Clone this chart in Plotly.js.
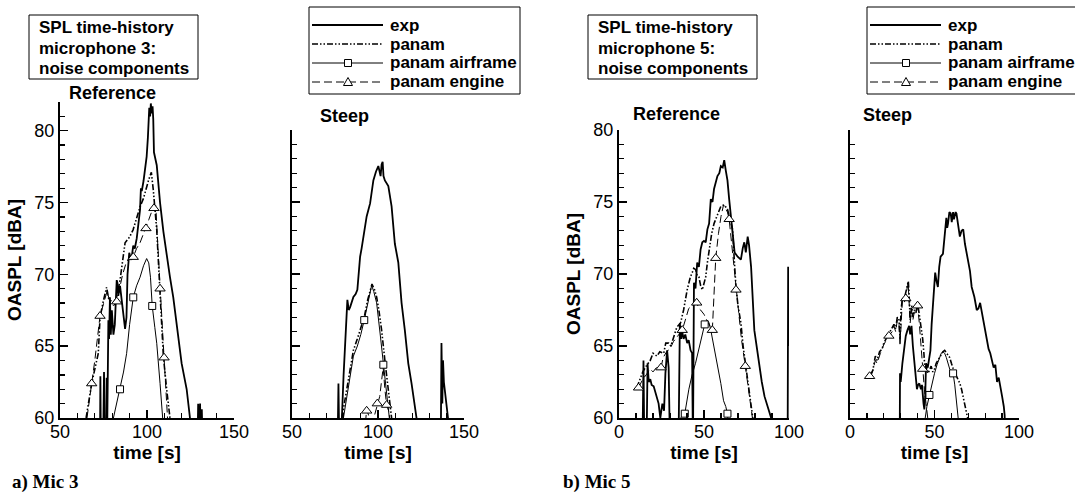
<!DOCTYPE html>
<html><head><meta charset="utf-8">
<script src="https://cdn.plot.ly/plotly-3.0.1.min.js"></script>
<style>html,body{margin:0;padding:0;background:#fff;} #chart{width:1075px;height:496px;}</style>
</head><body><div id="chart"></div>
<script>
// ---------- DATA: [time s, OASPL dBA] ----------
// Mic 3, Reference
const m3ref_exp = [[70,58],[73,58],[73.2,62.9],[73.5,58],[74.8,58],[75.3,63.2],[75.7,58],[76.5,58],[76.8,62.8],[77.2,60],
  [77.8,66.8],[78.2,65.5],[78.7,68.4],[79.2,65.8],[79.8,67.5],[80.7,65.8],[81.5,66.5],[82.6,69.6],[83,69.4],[83.5,68.5],
  [84.5,69.2],[86,67.5],[87.4,66.2],[88.2,67],[88.8,70],[89.8,71.5],[91,71],[92.1,72],[93,71.8],[94.1,72.5],
  [95,73.5],[96,74.5],[96.5,76],[97,75.8],[98,76.5],[99.8,78.2],[100.5,79.5],[101.3,81.6],[101.8,81],[102.2,81.9],
  [102.7,81.2],[103.2,81.7],[103.6,80.8],[104,78.5],[105.6,77.6],[107.5,75],[109.4,73],[111.3,71.2],[113.2,69.8],[115.1,68.4],
  [117,66.6],[119.9,63.8],[122.8,62],[124.7,60],[125.5,58],[129,58],[129.4,61],[129.8,58],[130.5,61],[131,58],[131.5,60.6],[132,58]];
const m3ref_panam = [[65,60],[68.2,62.4],[72,64.5],[73,67],[75,68.2],[76.8,69.1],[78,68.3],[80.7,68],[82.6,68.4],[84.5,69.6],
  [87.4,72.2],[90,72.6],[92,73.1],[94,74],[96,74.7],[98,75.3],[99.8,76.1],[101,76.6],[102.5,77.1],[103.6,75.9],
  [105.6,73.1],[107.5,69.1],[109.4,64.3],[111.3,62],[113.2,60]];
const m3ref_airframe = [[80.7,60],[82.5,61],[84.5,62],[86.5,63.2],[88.3,64.5],[90,66.5],[92.1,68.4],[94,69.2],[96,69.8],[98,70.6],
  [99.8,71.1],[101,70.8],[102,69.8],[103,67.8],[104.5,66.3],[105.6,65.2],[107.5,62.4],[109,60]];
const m3ref_engine = [[65.5,60],[68.2,62.4],[70,64],[73,67.1],[75,68],[77,68.8],[79,68],[80.7,67.8],[82.6,68.1],[84.5,69.2],
  [86,70],[88,70.8],[90,71.2],[92.1,71.2],[94,71.8],[96,72.2],[99.4,73.2],[101,73.8],[102.5,74.3],[104,74.6],
  [105,74.8],[106,72.5],[107.5,69],[109.8,64.2],[111.8,60]];
const m3ref_airframe_sym = [[84.5,62],[92.1,68.4],[103,67.8]];
const m3ref_engine_sym = [[68.2,62.4],[73,67.1],[82.6,68.1],[92.1,71.2],[99.4,73.2],[104,74.6],[107.5,69],[109.8,64.2]];

// Mic 3, Steep
const m3stp_exp = [[76.5,58],[77,62.4],[77.5,58],[79,60],[80,63],[80.9,65.4],[82.2,68.2],[83,67.5],[83.8,67.7],[85.7,68.4],
  [87,68.6],[88,68.9],[89.6,71.2],[90.5,71.8],[91.5,72.6],[93.4,74],[95.4,74.9],[97.3,76.5],[98.8,77.1],[100.2,77.5],
  [101.5,76.8],[102.1,77.6],[102.7,77.8],[103.2,76.8],[104,76.5],[106,76.1],[107.9,74.7],[109.8,72.1],[111.8,70.8],[113.7,68],
  [115.6,66.1],[117.6,63.8],[119.5,62.4],[121.4,61],[122.4,60],[123,58],[136.5,58],[136.9,65.2],[137.4,61],[137.8,64],
  [138.3,62.5],[140.7,60],[141,58]];
const m3stp_panam = [[79,60],[81,61.5],[83,62.8],[85.7,64.7],[88,65.5],[90,66.2],[92,67],[94,68.2],[95.4,68.9],[96.5,69.3],
  [98,68.9],[99.2,68.4],[100.5,67.5],[102.1,66.1],[104,64],[106,62],[107.9,60]];
const m3stp_airframe = [[79.9,60],[82,61.5],[84,63],[85.7,64.3],[88,65],[90,65.8],[92,66.8],[94,68],[95.4,68.9],[96.3,69.2],
  [97.5,68.8],[99.2,68],[101.2,65.9],[103.1,63.7],[105,61.5],[106.6,60]];
const m3stp_engine = [[91.5,58],[93.4,60.6],[94.5,60.2],[95.5,58],[98,60.2],[99.6,61],[101,61.5],[102,62.5],[103,63.5],[104,62],
  [105,60.9],[106.5,60.4],[108,58]];
const m3stp_airframe_sym = [[92,66.8],[103.1,63.7]];
const m3stp_engine_sym = [[93.4,60.5],[99.6,61],[105,60.9]];

// Mic 5, Reference
const m5ref_exp = [[13.8,58],[14.4,64],[14.9,58],[16.2,58],[16.8,63.8],[17.5,62.5],[18.4,62.7],[19.2,62.3],[20.4,62.2],[21.3,61.8],
  [22.3,61.5],[23.3,61],[24.3,60],[25.5,61],[26.5,60.5],[27.3,63.1],[28.3,64.7],[29.2,63.5],[30,58],[33.5,58],
  [35,58],[35.8,66.6],[36.5,65.5],[37.2,66],[38,65.5],[39,65.8],[40.1,65.2],[41,65.4],[42.1,64.7],[43,64.5],
  [43.5,58],[44.1,69.4],[45,69],[46,70.8],[47,70.5],[48,71.7],[49,72.2],[50,72.3],[51,72.2],[52,73.1],
  [53,73.5],[54,75.2],[55,75],[55.9,75.9],[57,76.5],[57.9,76.8],[59,77],[59.9,77.5],[61,77.4],[61.9,77.9],
  [62.8,77.2],[63.8,76.5],[64.8,75.2],[66.8,73.1],[68,71.5],[69.8,71.2],[71.7,71],[72.8,71.8],[73.7,72.2],[74.6,71.5],
  [75.7,72.6],[76.5,72],[77.7,70.5],[79.6,66.1],[81,65],[82.6,63.4],[84,62.5],[85.6,61.5],[87,61],[88,60.5],
  [89.5,60],[90,58],[99.2,58],[99.5,70.5],[99.8,68],[100,65]];
const m5ref_panam = [[10.5,62.1],[12,62.6],[14,63.2],[16,63.6],[18.4,64],[20,64.5],[22.3,64.3],[24,64.6],[26.3,64.5],[27.5,65.2],
  [29.2,65.2],[30.5,65],[32.2,65.7],[34,66.3],[36.2,66.6],[38,67.5],[40.1,68.9],[42,69.8],[43.1,70.1],[44,70.4],
  [45.1,70.3],[46,69.9],[47,69.8],[48,69.2],[49,68.9],[50,69.3],[51,69.8],[52,70.8],[53,71.7],[54.5,72.8],
  [55.9,73.5],[58,74.2],[59.9,74.7],[61.9,74.8],[63.8,74.5],[65.3,73.8],[66.8,73.1],[67.8,71],[68.8,69.1],[70,67.8],
  [71.7,66.6],[73,65],[74.7,63.6],[75.7,62.8],[76.7,62],[77.7,61],[78.7,60]];
const m5ref_airframe = [[36.2,60],[38.7,60.3],[41.1,62],[43,63],[45,63.8],[46.5,64.5],[48,65.2],[50.4,66.5],[52,66.8],[53,66.6],
  [54,66.1],[55.5,65.2],[56.9,64.3],[58.5,63.3],[59.9,62.4],[61.5,61.2],[62.8,60.8],[63.8,60.3],[64.2,59.5]];
const m5ref_engine = [[11.5,62.1],[14,62.7],[16,63],[18.4,63.4],[20,63.2],[22,63.5],[24.7,63.5],[26,64.2],[28,64.6],[30,64.8],
  [32,65.3],[35,65.8],[37.2,66.1],[39,66.8],[41,67.6],[43,67.8],[44.5,67.9],[45.7,68],[47,67.6],[48,67.5],
  [50,67.2],[52,66.7],[54.9,66.1],[55.8,68.5],[56.9,71.1],[58.5,72.8],[60,74],[61.5,74.8],[62.5,74.6],[63.8,74.3],
  [64.8,73.8],[66.8,71.5],[68.8,68.9],[70.5,67],[72,65.5],[74.3,63.6],[76,62],[77.5,61],[78.5,60]];
const m5ref_airframe_sym = [[38.7,60.3],[50.4,66.5],[63.8,60.3]];
const m5ref_engine_sym = [[11.5,62.1],[24.7,63.5],[37.2,66.1],[45.7,68],[54.9,66.1],[56.9,71.1],[64.8,73.8],[68.8,68.9],[74.3,63.6]];

// Mic 5, Steep
const m5stp_exp = [[29.4,58],[29.6,63.1],[30,62.5],[31,63.8],[32,64.6],[33,65.7],[34,66.1],[35,66.4],[35.6,65.8],[36.4,66.4],
  [37.2,65],[38,63.8],[39,62.8],[39.6,62],[40.3,62.3],[41,62.4],[42,62],[42.6,62.3],[43.5,61],[44,60.6],
  [44.5,61.5],[45,63.8],[46,63.5],[47.6,64.7],[48.3,66.5],[49,68],[49.6,69],[50.4,70.1],[51.2,69.5],[52,69.1],
  [52.8,70.5],[53.6,71.2],[55,71.4],[56,72.6],[57,73.9],[57.5,73.2],[58,73.5],[58.8,74.3],[59.6,74.2],[60.2,73.6],
  [61,74.3],[61.5,73.8],[62,74],[62.5,74.3],[63,74.2],[64,73.5],[65,72.6],[66,73],[67,73.1],[68,72.1],
  [69,71.5],[70,71],[71,70.2],[72,69.1],[73.6,68.4],[75,67.5],[76,67.6],[77,68],[78,67.3],[79,66.6],
  [80,66],[81,65.2],[82,64.8],[83,64.5],[84,64],[85,63.5],[86,63.7],[87,62.5],[88,62.8],[89,62],
  [90,61.5],[91,60.8],[91.5,60.2],[92,58]];
const m5stp_panam = [[12,63],[13.5,63.3],[15,64.3],[16,64],[17.5,64.6],[19,64.8],[20,65.2],[22,65.6],[24,66],[26,66.5],
  [27,66.2],[28,67],[29,66.8],[29.6,65.5],[30.2,67.5],[31,68.3],[32,68.2],[33,68.8],[34,69.4],[34.5,69.5],
  [35,68.5],[35.6,66.8],[36.5,67.8],[37.3,67],[38,67.5],[39,67.3],[40,68],[41,67.2],[42,66.6],[43,65.5],
  [43.6,64.7],[44.3,63.5],[45,63.6],[46,63.1],[47,63.3],[48,63.6],[49,63.2],[50,63.4],[51,63.8],[52,64],
  [53,64.3],[54,64.5],[55,64.6],[56,64.7],[57,64.5],[58,64.3],[59,64.2],[60,63.8],[61,63.4],[62,63.1],
  [63,62.9],[64,62.7],[65,62.4],[66,62],[67,61.5],[68,60.8],[69,60.3],[69.6,60]];
const m5stp_airframe = [[43.5,58],[44.5,60],[45.5,60.8],[47,61.6],[48.5,62.4],[50,63.1],[51.5,63.7],[53,64.2],[54,64.5],[55,64.6],
  [56,64.5],[57,64.2],[58,63.8],[59,63.4],[60,63.2],[61,63.1],[62,62.3],[63,61],[64,60],[64.5,58]];
const m5stp_engine = [[11.6,62.9],[13,63.1],[15,64],[16,63.8],[18,64.5],[20,65.1],[23,65.7],[25,66],[26,66.4],[27,66],
  [28,66.8],[29,66.5],[29.6,65],[30.3,67],[31,68.2],[32,68],[33,68.3],[34,69.2],[34.4,69.4],[35,68],
  [35.6,66.6],[36.4,67.5],[37.2,66.8],[38.4,67.6],[40,67.8],[41,66.6],[42,65],[43,63.4],[44,62],[45,61],[46,60]];
const m5stp_airframe_sym = [[47,61.6],[61,63.1]];
const m5stp_engine_sym = [[11.6,62.9],[23,65.7],[33,68.3],[40,67.8],[43,63.4]];

const seriesNames = ['exp', 'panam', 'panam airframe', 'panam engine'];
const panelTitles = ['Reference', 'Steep', 'Reference', 'Steep'];
const boxLines3 = ['SPL time-history', 'microphone 3:', 'noise components'];
const boxLines5 = ['SPL time-history', 'microphone 5:', 'noise components'];
const captions = ['a) Mic 3', 'b) Mic 5'];
const xTitle = 'time [s]';
const yTitle = 'OASPL [dBA]';

// ---------- LAYOUT HELPERS ----------
const W = 1075, H = 496;
const px = x => x / W;
const py = y => 1 - y / H;
const FONT = 'Liberation Sans, Arial, Helvetica, sans-serif';
const SERIF = 'Liberation Serif, Times New Roman, serif';
const DASH_PANAM = '6px,2px,1.5px,2px,1.5px,2px';
const DASH_ENG = '8px,4px';

const panels = [
  {data:[m3ref_exp, m3ref_panam, m3ref_airframe, m3ref_engine], sq:m3ref_airframe_sym, tri:m3ref_engine_sym,
   xd:[60,234], yd:[418,102], xr:[50,150], yr:[60,82], labels:true},
  {data:[m3stp_exp, m3stp_panam, m3stp_airframe, m3stp_engine], sq:m3stp_airframe_sym, tri:m3stp_engine_sym,
   xd:[292,464], yd:[418,130], xr:[50,150], yr:[60,80], labels:false},
  {data:[m5ref_exp, m5ref_panam, m5ref_airframe, m5ref_engine], sq:m5ref_airframe_sym, tri:m5ref_engine_sym,
   xd:[619,789], yd:[418,130], xr:[0,100], yr:[60,80], labels:true},
  {data:[m5stp_exp, m5stp_panam, m5stp_airframe, m5stp_engine], sq:m5stp_airframe_sym, tri:m5stp_engine_sym,
   xd:[850,1019], yd:[418,130], xr:[0,100], yr:[60,80], labels:false}
];

const lineStyles = [
  {color:'#000', width:1.8},
  {color:'#000', width:1.6, dash:DASH_PANAM},
  {color:'#000', width:1},
  {color:'#000', width:1, dash:DASH_ENG}
];

const traces = [];
const layout = {
  width: W, height: H,
  margin: {l:0, r:0, t:0, b:0},
  paper_bgcolor: '#fff', plot_bgcolor: 'rgba(0,0,0,0)',
  showlegend: false,
  shapes: [], annotations: []
};

panels.forEach((p, i) => {
  const s = i === 0 ? '' : String(i + 1);
  const xa = 'x' + s, ya = 'y' + s;
  p.data.forEach((d, k) => {
    traces.push({type:'scatter', mode:'lines', name:seriesNames[k], x:d.map(q=>q[0]), y:d.map(q=>q[1]),
      xaxis:xa, yaxis:ya, line:lineStyles[k], hoverinfo:'skip', showlegend:false});
  });
  traces.push({type:'scatter', mode:'markers', name:seriesNames[2], x:p.sq.map(q=>q[0]), y:p.sq.map(q=>q[1]),
    xaxis:xa, yaxis:ya, marker:{symbol:'square', size:7, color:'#fff', line:{color:'#000', width:1}},
    hoverinfo:'skip', showlegend:false, cliponaxis:false});
  traces.push({type:'scatter', mode:'markers', name:seriesNames[3], x:p.tri.map(q=>q[0]), y:p.tri.map(q=>q[1]),
    xaxis:xa, yaxis:ya, marker:{symbol:'triangle-up', size:9, color:'#fff', line:{color:'#000', width:1}},
    hoverinfo:'skip', showlegend:false, cliponaxis:false});

  layout['xaxis' + s] = {
    domain:[px(p.xd[0]), px(p.xd[1])], range:p.xr, anchor:ya,
    showline:true, linecolor:'#000', linewidth:2, mirror:false,
    ticks:'inside', ticklen:8, tickwidth:1.5, tickcolor:'#000', tick0:0, dtick:50,
    minor:{ticks:'inside', ticklen:5, tickwidth:1.3, tickcolor:'#000', tick0:0, dtick:10, showgrid:false},
    showgrid:false, zeroline:false, fixedrange:true, ticklabelstandoff:-4,
    tickfont:{family:FONT, size:18, color:'#000'},
    title:{text:xTitle, font:{family:FONT, size:19, color:'#000', weight:'bold'}, standoff:1}
  };
  layout['yaxis' + s] = {
    domain:[py(p.yd[0]), py(p.yd[1])], range:p.yr, anchor:xa,
    showline:true, linecolor:'#000', linewidth:2, mirror:false,
    ticks:'inside', ticklen:8, tickwidth:1.5, tickcolor:'#000', tick0:0, dtick:5,
    minor:{ticks:'inside', ticklen:5, tickwidth:1.3, tickcolor:'#000', tick0:0, dtick:1, showgrid:false},
    showgrid:false, zeroline:false, fixedrange:true, showticklabels:p.labels,
    tickfont:{family:FONT, size:18, color:'#000'},
    title: p.labels ? {text:yTitle, font:{family:FONT, size:19, color:'#000', weight:'bold'}, standoff:8} : {text:''}
  };
});

// Panel titles
const titlePos = [[112,93],[344,116],[676,114],[887,115]];
panelTitles.forEach((t, i) => {
  layout.annotations.push({text:t, xref:'paper', yref:'paper', x:px(titlePos[i][0]), y:py(titlePos[i][1]),
    xanchor:'center', yanchor:'middle', showarrow:false, font:{family:FONT, size:18, color:'#000', weight:'bold'}});
});

// Description boxes
function descBox(x0, lines) {
  layout.shapes.push({type:'rect', xref:'paper', yref:'paper', x0:px(x0), x1:px(x0+169), y0:py(79), y1:py(15),
    line:{color:'#000', width:1}, fillcolor:'rgba(0,0,0,0)'});
  lines.forEach((t, k) => {
    layout.annotations.push({text:t, xref:'paper', yref:'paper', x:px(x0+8), y:py(28 + 20*k),
      xanchor:'left', yanchor:'middle', showarrow:false, font:{family:FONT, size:17, color:'#000', weight:'bold'}});
  });
}
descBox(29, boxLines3);
descBox(588, boxLines5);

// Legend boxes
function legendBox(x0) {
  layout.shapes.push({type:'rect', xref:'paper', yref:'paper', x0:px(x0), x1:px(x0+211), y0:py(94), y1:py(7),
    line:{color:'#000', width:1}, fillcolor:'rgba(0,0,0,0)'});
  const rows = [25, 44, 63, 82];
  rows.forEach((ry, k) => {
    const ls = lineStyles[k];
    layout.shapes.push({type:'line', xref:'paper', yref:'paper', x0:px(x0+3), x1:px(x0+74), y0:py(ry), y1:py(ry),
      line:{color:'#000', width:ls.width, dash:ls.dash || 'solid'}});
    layout.annotations.push({text:seriesNames[k], xref:'paper', yref:'paper', x:px(x0+79), y:py(ry),
      xanchor:'left', yanchor:'middle', showarrow:false, font:{family:FONT, size:17, color:'#000', weight:'bold'}});
  });
  const cx = x0 + 39;
  layout.shapes.push({type:'rect', xref:'paper', yref:'paper', x0:px(cx-3.5), x1:px(cx+3.5), y0:py(63+3.5), y1:py(63-3.5),
    line:{color:'#000', width:1}, fillcolor:'#fff'});
  layout.shapes.push({type:'path', xref:'paper', yref:'paper',
    path:`M ${px(cx-4.5)},${py(82+3.5)} L ${px(cx+4.5)},${py(82+3.5)} L ${px(cx)},${py(82-4.5)} Z`,
    line:{color:'#000', width:1}, fillcolor:'#fff'});
}
legendBox(309);
legendBox(867);

// Captions
layout.annotations.push({text:'<b>'+captions[0]+'</b>', xref:'paper', yref:'paper', x:px(10), y:py(482),
  xanchor:'left', yanchor:'middle', showarrow:false, font:{family:SERIF, size:19, color:'#000'}});
layout.annotations.push({text:'<b>'+captions[1]+'</b>', xref:'paper', yref:'paper', x:px(561), y:py(482),
  xanchor:'left', yanchor:'middle', showarrow:false, font:{family:SERIF, size:19, color:'#000'}});

Plotly.newPlot('chart', traces, layout, {staticPlot:true, displayModeBar:false});
</script></body></html>
